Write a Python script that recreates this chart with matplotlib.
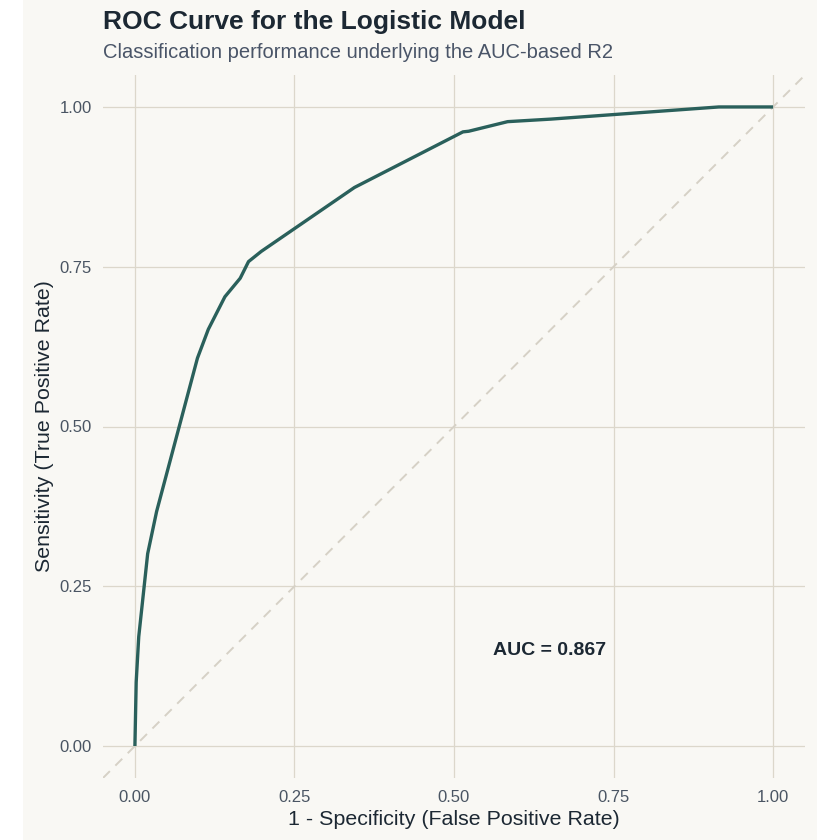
import matplotlib
matplotlib.use("Agg")
import matplotlib.pyplot as plt
from matplotlib.patches import Rectangle

# Data
fpr = [0.0, 0.002, 0.006, 0.020, 0.034, 0.098, 0.115, 0.141, 0.165, 0.178, 0.198,
       0.344, 0.514, 0.523, 0.584, 0.652, 0.915, 1.0]
tpr = [0.0, 0.100, 0.171, 0.301, 0.367, 0.607, 0.652, 0.703, 0.732, 0.758, 0.774,
       0.874, 0.961, 0.962, 0.977, 0.981, 1.0, 1.0]
ticks = [0.0, 0.25, 0.5, 0.75, 1.0]
tick_labels = ["0.00", "0.25", "0.50", "0.75", "1.00"]
auc_text = "AUC = 0.867"

plt.rcParams['font.family'] = ['Liberation Sans', 'DejaVu Sans']

bg = "#F9F8F4"
grid_c = "#DCD7CB"
line_c = "#2A605B"

fig = plt.figure(figsize=(8.4, 8.4), dpi=100, facecolor="white")
fig.patches.append(Rectangle((23/840, 0), (817-23)/840, 1, transform=fig.transFigure,
                             facecolor=bg, edgecolor="none", zorder=-10))
ax = fig.add_axes([103/840, 1-778/840, (805-103)/840, (778-75)/840])
ax.set_facecolor(bg)
for s in ax.spines.values():
    s.set_visible(False)

ax.set_xlim(-0.05, 1.05)
ax.set_ylim(-0.05, 1.05)
ax.set_xticks(ticks)
ax.set_xticklabels(tick_labels)
ax.set_yticks(ticks)
ax.set_yticklabels(tick_labels)
ax.grid(True, color=grid_c, linewidth=0.9)
ax.set_axisbelow(True)
ax.tick_params(length=0, labelsize=12, colors="#4A5563")
ax.tick_params(axis="x", pad=9)
ax.tick_params(axis="y", pad=8)

ax.plot([-0.05, 1.05], [-0.05, 1.05], linestyle=(0, (5, 4)), color="#D6D1C6", linewidth=1.4, zorder=2)
ax.plot(fpr, tpr, color=line_c, linewidth=2.4, zorder=3, solid_capstyle="butt")

ax.text(0.65, 0.149, auc_text, fontsize=14, fontweight="bold", color="#1C2833",
        ha="center", va="center")

ax.set_xlabel("1 - Specificity (False Positive Rate)", fontsize=15.4, color="#1C2833", labelpad=3)
ax.set_ylabel("Sensitivity (True Positive Rate)", fontsize=15.4, color="#1C2833", labelpad=4)

fig.text(103/840, 1-21.5/840, "ROC Curve for the Logistic Model", fontsize=19, fontweight="bold",
         color="#1C2833", ha="left", va="center")
fig.text(103/840, 1-52.5/840, "Classification performance underlying the AUC-based R2", fontsize=14.5,
         color="#4A5568", ha="left", va="center")

fig.savefig("out.png", dpi=100, facecolor="white")
